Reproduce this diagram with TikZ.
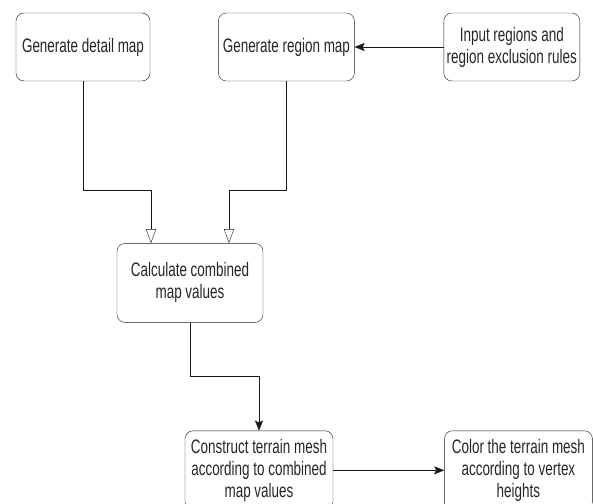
\documentclass[tikz,border=0pt]{standalone}
\usepackage{fontspec}
\newfontfamily\flowfont[FakeStretch=0.69]{Liberation Sans}
\usetikzlibrary{positioning, arrows.meta}
\tikzset{
        x=1pt, y=-1pt, % pixel-like coordinates, y grows downwards
        line width=1.4pt,
        stepbox/.style={draw=black!90, rounded corners=8pt, align=center, text=black!85,
            font=\flowfont\fontsize{19.5}{22}\selectfont, inner sep=1pt}, % every process box
        smallbox/.style={stepbox, minimum width=136pt, minimum height=68pt},
        bigbox/.style={stepbox, minimum width=148pt, minimum height=79pt},
        line/.style={draw=black!90, -{Stealth[length=10pt, width=8pt, inset=2pt]}}, % filled head
        merge/.style={draw=black!90, -{Triangle[open, length=14pt, width=10pt]}}, % hollow head
    }
\begin{document}
\begin{tikzpicture}
    \clip (0,0) rectangle (593,503);
    \node[smallbox, minimum width=134pt] (detail) at (83,47) {Generate detail map};
    \node[smallbox, right=68pt of detail] (region) {Generate region map};
    \node[smallbox, right=89pt of region] (rules) {Input regions and\\region exclusion rules};
    \node[bigbox, below=162pt of detail, xshift=107pt, minimum width=146pt] (combined) {Calculate combined\\map values};
    \node[bigbox, below=108pt of combined, xshift=69pt] (mesh) {Construct terrain mesh\\according to combined\\map values};
    \node[bigbox, right=111pt of mesh] (color) {Color the terrain mesh\\according to vertex\\heights};
    \draw[line] (rules) -- (region);
    \draw[merge] (detail.south) -- ++(0,109) -| ([xshift=-39pt]combined.north);
    \draw[merge] (region.south) -- ++(0,109) -| ([xshift=39pt]combined.north);
    \draw[line] (combined.south) -- ++(0,54) -| (mesh.north);
    \draw[line] (mesh) -- (color);
\end{tikzpicture}
\end{document}
